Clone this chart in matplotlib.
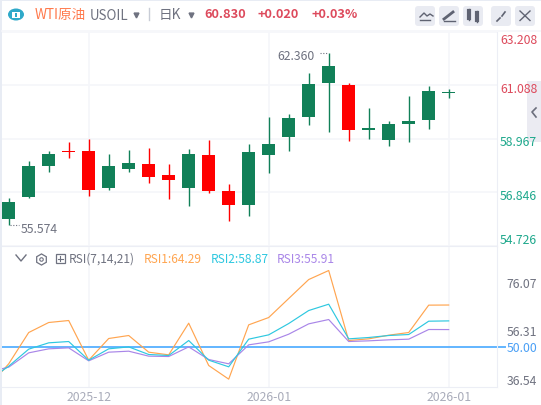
"""WTI daily candlestick panel with an RSI(7,14,21) pane below it."""
import matplotlib

matplotlib.use("Agg")
import matplotlib.pyplot as plt
import numpy as np
from matplotlib.lines import Line2D
from matplotlib.patches import Circle, FancyBboxPatch, Rectangle
from matplotlib.transforms import ScaledTranslation

plt.rcParams["font.family"] = ["Noto Sans CJK SC", "DejaVu Sans"]

# candles, oldest first; body is top/bottom since the colour gives direction
highs = [56.63, 58.07, 58.47, 58.83, 58.95, 58.35, 58.51, 58.59, 57.95, 58.55, 58.91, 57.16,
         58.75, 59.82, 59.94, 61.56, 62.36, 61.17, 60.18, 59.66, 60.65, 61.05, 60.93]
body_top = [56.45, 57.87, 58.35, 58.47, 58.47, 57.87, 57.99, 57.95, 57.52, 58.35, 58.31, 56.92,
            58.43, 58.75, 59.78, 61.13, 61.84, 61.09, 59.38, 59.54, 59.66, 60.85, 60.83]
body_bot = [55.78, 56.66, 57.89, 58.43, 56.96, 57.00, 57.79, 57.44, 57.32, 57.00, 56.92, 56.33,
            56.33, 58.31, 59.04, 59.83, 61.17, 59.31, 59.31, 58.91, 59.54, 59.71, 60.79]
lows = [55.574, 56.64, 57.65, 58.19, 56.70, 56.96, 57.64, 57.20, 56.60, 56.29, 56.84, 55.73,
        55.93, 57.60, 58.48, 59.50, 59.24, 58.88, 58.95, 58.68, 58.84, 59.34, 60.57]
is_red = [0, 0, 0, 1, 1, 0, 0, 1, 1, 0, 1, 1, 0, 0, 0, 0, 0, 1, 0, 0, 0, 0, 0]

# first RSI point sits one bar left of the visible window
rsi1 = [36.54, 44.21, 54.90, 58.32, 59.00, 45.46, 52.86, 53.88, 48.19, 47.28, 58.09, 43.64, 38.98,
        57.52, 60.02, 66.51, 72.99, 76.07, 52.17, 52.74, 53.99, 54.90, 64.25, 64.29]
rsi2 = [38.62, 43.40, 49.22, 51.38, 51.83, 45.46, 49.33, 50.00, 47.40, 47.05, 52.17, 45.46, 43.19,
        52.63, 54.11, 57.97, 62.41, 64.57, 52.74, 53.20, 53.88, 54.22, 58.77, 58.87]
rsi3 = [41.49, 43.07, 47.96, 49.33, 49.67, 45.23, 48.19, 48.53, 46.83, 46.71, 50.00, 45.69, 44.21,
        50.69, 51.72, 54.33, 57.86, 59.34, 51.83, 52.06, 52.40, 52.63, 55.93, 55.91]

price_ticks = [63.208, 61.088, 58.967, 56.846, 54.726]
rsi_ticks = [76.07, 56.31, 50.00, 36.54]
date_pos = [4, 13, 22]
date_labels = ["2025-12", "2026-01", "2026-01"]

GREEN = "#118058"
RED = "#ff0000"
GRID = "#f5f6fa"
EDGE = "#eceef5"
UP_TXT = "#dd4a5c"
DOWN_TXT = "#1ea88c"
GREY = "#6f7280"
ICON = "#5f6372"
ORANGE = "#ffa550"
CYAN = "#2ec8e0"
PURPLE = "#a986e8"
W, H = 541, 406


def fx(x):
    return x / W


def fy(y):
    return 1 - y / H


def box(x0, y0, x1, y1):
    return [fx(x0), fy(y1), (x1 - x0) / W, (y1 - y0) / H]


fig = plt.figure(figsize=(5.41, 4.06), dpi=100, facecolor="white")
ax = fig.add_axes(box(2, 32.5, 497, 247))
ax2 = fig.add_axes(box(2, 248, 497, 388))
ax.patch.set_alpha(0)
ax2.patch.set_alpha(0)
x = np.arange(len(highs))
xlim = (-0.335, 24.415)

colors = [RED if r else GREEN for r in is_red]
ax.vlines(x, lows, highs, colors=colors, lw=1.0, zorder=3)
ax.bar(x, np.array(body_top) - np.array(body_bot), bottom=body_bot, width=0.65,
       color=colors, lw=0, zorder=4)
ax.set_xlim(*xlim)
ax.set_ylim(price_ticks[-1], price_ticks[0])
ax.set_xticks(date_pos)
ax.set_xticklabels([])
ax.set_yticks(price_ticks)
ax.set_yticklabels([f"{v:.3f}" for v in price_ticks])
ax.grid(color=GRID, lw=1.2, zorder=0)
ax.tick_params(axis="x", length=0)
ax.tick_params(axis="y", left=False, right=False, labelleft=False, labelright=True,
               labelsize=8.8, length=0, pad=29)

ax.annotate("62.360", (16, 62.36), xytext=(-51, -3), textcoords="offset pixels", fontsize=8.8,
            color=GREY, ha="left", va="center")
ax.annotate("55.574", (0, 55.574), xytext=(12, -4), textcoords="offset pixels", fontsize=8.8,
            color=GREY, ha="left", va="center")
ax.plot([15.55, 15.95], [62.36, 62.36], color=GREY, lw=0.8, ls=(0, (1, 1.5)), zorder=2)
ax.plot([0.05, 0.5], [55.574, 55.574], color=GREY, lw=0.8, ls=(0, (1, 1.5)), zorder=2)

xr = np.arange(len(rsi1)) - 1
ax2.plot(xr, rsi1, color=ORANGE, lw=0.85, zorder=3)
ax2.plot(xr, rsi2, color=CYAN, lw=0.85, zorder=4)
ax2.plot(xr, rsi3, color=PURPLE, lw=0.85, zorder=3)
ax2.plot([xlim[0], 24.8], [50, 50], color="#62b5ff", lw=1.4, clip_on=False, zorder=2)
ax2.set_xlim(*xlim)
ax2.set_ylim(36.3, 84.1)
ax2.set_xticks(date_pos)
ax2.set_xticklabels(date_labels)
ax2.set_yticks(rsi_ticks)
ax2.set_yticklabels([f"{v:.2f}" for v in rsi_ticks])
ax2.grid(axis="x", color=GRID, lw=1.2, zorder=0)
ax2.tick_params(axis="x", length=0, labelsize=8.8, labelcolor="#a9acba", pad=2.5)
ax2.tick_params(axis="y", left=False, right=False, labelleft=False, labelright=True,
                labelsize=8.8, length=0, pad=29)

for a in (ax, ax2):
    a.set_axisbelow(True)
    for side in ("top", "left"):
        a.spines[side].set_visible(False)
    a.spines["right"].set_color(EDGE)
    a.spines["bottom"].set_color(EDGE)

# price labels sit a little below their level, the outer two are pulled inside
price_labels = [t.label2 for t in ax.yaxis.get_major_ticks()]
for lbl, v, dy in zip(price_labels, price_ticks, [-6.5, -1.5, -1.5, -1.5, 7.5]):
    lbl.set_color(UP_TXT if v > 60.83 else DOWN_TXT)
    lbl.set_ha("right")
    lbl.set_transform(lbl.get_transform() + ScaledTranslation(0, dy / 100, fig.dpi_scale_trans))
rsi_labels = [t.label2 for t in ax2.yaxis.get_major_ticks()]
for lbl, v, dy in zip(rsi_labels, rsi_ticks, [-11, -1.5, 1, 7]):
    lbl.set_color("#4a9ff5" if v == 50 else GREY)
    lbl.set_ha("right")
    lbl.set_transform(lbl.get_transform() + ScaledTranslation(0, dy / 100, fig.dpi_scale_trans))


def ftext(px, py, s, color, size=8.8, **kw):
    fig.text(fx(px), fy(py), s, color=color, fontsize=size, va="center", **kw)


def fline(xs, ys, color=GREY, lw=1.0):
    fig.add_artist(Line2D([fx(v) for v in xs], [fy(v) for v in ys], color=color, lw=lw))


# page edge and header rule
fig.add_artist(Rectangle((0, fy(1.5)), 1, 1.5 / H, color="#e8ecf4", lw=0))
fig.add_artist(Rectangle((0, 0), fx(1.5), 1, color="#e8ecf4", lw=0))
fline([2, 541], [31.5, 31.5], GRID, 1.2)

# header
fig.add_artist(Circle((fx(16), fy(15.5)), 8 / W, color="#2fa9c9", lw=0))
fig.add_artist(Rectangle((fx(12), fy(18.5)), 8 / W, 6 / H, color="white", lw=0))
fig.add_artist(Rectangle((fx(15), fy(17.5)), 2 / W, 4 / H, color="#2fa9c9", lw=0))
ftext(35, 14.5, "WTI原油", "#ff7a4d", 9.8)
ftext(90, 15.5, "USOIL", GREY, 9.6)
fline([149, 149], [9, 21], "#c8ccd6", 1.0)
ftext(159, 14.5, "日K", GREY, 9.8)
for cx in (135.5, 190.5):
    fig.add_artist(Line2D([fx(cx)], [fy(15.5)], marker="v", ms=3.5, color=GREY, lw=0))
ftext(204, 14.5, "60.830", UP_TXT, 9.2, fontweight="bold")
ftext(257, 14.5, "+0.020", UP_TXT, 9.2, fontweight="bold")
ftext(311, 14.5, "+0.03%", UP_TXT, 9.2, fontweight="bold")

# toolbar buttons
for bx in (415, 439, 463, 491, 515):
    fig.add_artist(FancyBboxPatch((fx(bx + 3), fy(24)), 14 / W, 14 / H,
                                  boxstyle="round,pad=0.0055", mutation_aspect=W / H,
                                  fc="#e9ebf2", ec="none"))
fline([420, 424, 427, 430, 433], [18, 14, 17, 15, 17], ICON, 1.0)
fline([420, 430], [21, 21], ICON, 1.0)
fline([444, 453], [20, 13], ICON, 2.0)
fline([444, 455], [21.5, 21.5], ICON, 1.0)
for cx, y0, y1 in ((469, 12, 19), (477, 14, 21)):
    fline([cx, cx], [y0 - 2, y1 + 2], ICON, 1.0)
    fline([cx, cx], [y0, y1], ICON, 3.0)
fline([497, 500], [22, 19], ICON, 1.2)
fline([502, 505], [17, 13], ICON, 1.2)
fline([520, 530], [12, 21.5], ICON, 1.0)
fline([530, 520], [12, 21.5], ICON, 1.0)

# side tab, behind the price labels
fig.add_artist(Rectangle((fx(527), fy(143)), 14 / W, 61 / H, color="#ebebf2", lw=0, zorder=-1))
fline([536, 532, 536], [109, 113, 118], "#6b6e7c", 1.2)

# RSI legend row
fline([16, 21, 26], [256, 262, 256], GREY, 1.0)
fig.add_artist(Line2D([fx(41)], [fy(259.5)], marker="h", ms=8, mfc="none", mec=GREY, mew=0.9, lw=0))
fig.add_artist(Line2D([fx(41)], [fy(259.5)], marker="o", ms=2.5, mfc="none", mec=GREY, mew=0.8, lw=0))
fig.add_artist(Rectangle((fx(55.5), fy(264)), 9 / W, 9 / H, fc="none", ec=GREY, lw=0.9))
fline([57.5, 62.5], [259.5, 259.5], GREY, 0.8)
fline([60, 60], [257, 262], GREY, 0.8)
ftext(69, 259, "RSI(7,14,21)", GREY, 8.6)
ftext(144, 259.5, f"RSI1:{rsi1[-1]:.2f}", ORANGE, 8.6)
ftext(211, 259.5, f"RSI2:{rsi2[-1]:.2f}", CYAN, 8.6)
ftext(277, 259.5, "RSI3:55.91", PURPLE, 8.6)

fig.savefig("out.png", dpi=100)
